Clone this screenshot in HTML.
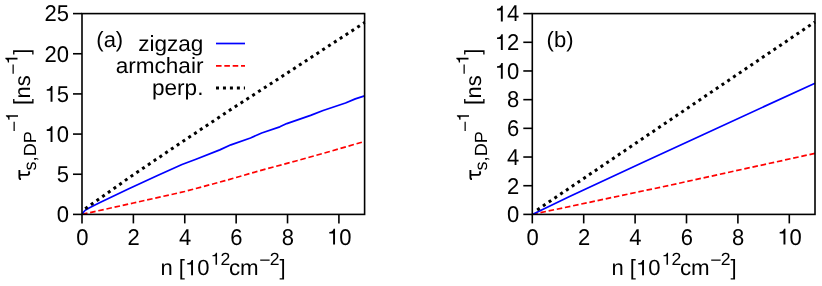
<!DOCTYPE html>
<html><head><meta charset="utf-8"><style>
html,body{margin:0;padding:0;background:#fff;}
svg{display:block;will-change:transform;}
text{font-family:"Liberation Sans",sans-serif;font-size:22px;fill:#000;text-rendering:geometricPrecision;}
</style></head><body>
<svg width="822" height="286" viewBox="0 0 822 286">
<rect width="822" height="286" fill="#fff"/>
<path d="M82.00 214.40 L133.38 202.99 L184.76 191.51 L225.10 180.67 L260.04 170.63 L294.98 161.23 L329.92 151.43 L364.60 141.47" fill="none" stroke="#ff0000" stroke-width="1.7" stroke-dasharray="5.56 2.78"/>
<path d="M82.30 214.00 L83.90 211.60 L85.60 210.00 L89.10 207.90 L93.50 205.70 L100.00 202.50 L128.30 189.06 L157.00 175.79 L182.00 164.55 L196.00 159.22 L219.80 149.88 L230.90 144.83 L250.50 137.96 L261.70 132.97 L279.80 126.85 L286.80 123.59 L310.60 115.39 L323.10 110.50 L345.50 103.02 L355.30 98.90 L364.60 95.90" fill="none" stroke="#0000ff" stroke-width="1.7" stroke-linejoin="round"/>
<path d="M85.20 208.80 L130.00 177.05 L180.00 143.30 L230.00 110.05 L280.00 77.75 L330.00 45.10 L364.60 22.60" fill="none" stroke="#000" stroke-width="3" stroke-dasharray="3 3.96"/>
<rect x="82.00" y="13.60" width="282.60" height="200.80" fill="none" stroke="#000" stroke-width="1.6"/>
<line x1="73.00" y1="214.40" x2="82.00" y2="214.40" stroke="#000" stroke-width="1.6"/>
<g transform="translate(68.90 222.20) scale(1 1.04)"><text style="font-size:22.0px" x="-12.24" y="0">0</text></g>
<line x1="73.00" y1="174.24" x2="82.00" y2="174.24" stroke="#000" stroke-width="1.6"/>
<g transform="translate(68.90 182.04) scale(1 1.04)"><text style="font-size:22.0px" x="-12.24" y="0">5</text></g>
<line x1="73.00" y1="134.08" x2="82.00" y2="134.08" stroke="#000" stroke-width="1.6"/>
<g transform="translate(68.90 141.88) scale(1 1.04)"><text style="font-size:22.0px" x="-12.24" y="0">0</text><path d="M750 0H570V985H215V1125Q420 1135 505 1212Q580 1280 620 1409H750Z" transform="translate(-24.47 0) scale(0.01074 -0.01074)"/></g>
<line x1="73.00" y1="93.92" x2="82.00" y2="93.92" stroke="#000" stroke-width="1.6"/>
<g transform="translate(68.90 101.72) scale(1 1.04)"><text style="font-size:22.0px" x="-12.24" y="0">5</text><path d="M750 0H570V985H215V1125Q420 1135 505 1212Q580 1280 620 1409H750Z" transform="translate(-24.47 0) scale(0.01074 -0.01074)"/></g>
<line x1="73.00" y1="53.76" x2="82.00" y2="53.76" stroke="#000" stroke-width="1.6"/>
<g transform="translate(68.90 61.56) scale(1 1.04)"><text style="font-size:22.0px" x="-24.47 -12.24" y="0">20</text></g>
<line x1="73.00" y1="13.60" x2="82.00" y2="13.60" stroke="#000" stroke-width="1.6"/>
<g transform="translate(68.90 21.40) scale(1 1.04)"><text style="font-size:22.0px" x="-24.47 -12.24" y="0">25</text></g>
<line x1="82.00" y1="214.40" x2="82.00" y2="223.40" stroke="#000" stroke-width="1.6"/>
<g transform="translate(82.30 244.50) scale(1 1.04)"><text style="font-size:22.0px" x="-6.12" y="0">0</text></g>
<line x1="133.38" y1="214.40" x2="133.38" y2="223.40" stroke="#000" stroke-width="1.6"/>
<g transform="translate(133.68 244.50) scale(1 1.04)"><text style="font-size:22.0px" x="-6.12" y="0">2</text></g>
<line x1="184.76" y1="214.40" x2="184.76" y2="223.40" stroke="#000" stroke-width="1.6"/>
<g transform="translate(185.06 244.50) scale(1 1.04)"><text style="font-size:22.0px" x="-6.12" y="0">4</text></g>
<line x1="236.15" y1="214.40" x2="236.15" y2="223.40" stroke="#000" stroke-width="1.6"/>
<g transform="translate(236.45 244.50) scale(1 1.04)"><text style="font-size:22.0px" x="-6.12" y="0">6</text></g>
<line x1="287.53" y1="214.40" x2="287.53" y2="223.40" stroke="#000" stroke-width="1.6"/>
<g transform="translate(287.83 244.50) scale(1 1.04)"><text style="font-size:22.0px" x="-6.12" y="0">8</text></g>
<line x1="338.91" y1="214.40" x2="338.91" y2="223.40" stroke="#000" stroke-width="1.6"/>
<g transform="translate(339.21 244.50) scale(1 1.04)"><text style="font-size:22.0px" x="0.00" y="0">0</text><path d="M750 0H570V985H215V1125Q420 1135 505 1212Q580 1280 620 1409H750Z" transform="translate(-12.24 0) scale(0.01074 -0.01074)"/></g>
<g transform="translate(96.30 47.15) scale(1 1)"><text style="font-size:22.0px" x="0.00 7.33 19.56" y="0">(a)</text></g>
<g transform="translate(160.50 275.20) scale(1 1)"><text style="font-size:22.0px" x="0.00 18.35 36.70" y="0">n[0</text><path d="M750 0H570V985H215V1125Q420 1135 505 1212Q580 1280 620 1409H750Z" transform="translate(24.46 0) scale(0.01074 -0.01074)"/></g>
<g transform="translate(210.60 264.80) scale(1 1)"><text style="font-size:17.6px" x="9.79" y="0">2</text><path d="M750 0H570V985H215V1125Q420 1135 505 1212Q580 1280 620 1409H750Z" transform="translate(0.00 0) scale(0.00859 -0.00859)"/></g>
<g transform="translate(228.90 275.20) scale(1.015 1)"><text style="font-size:22.0px" x="0.00 11.00" y="0">cm</text></g>
<g transform="translate(259.20 266.20) scale(1.1 1)"><text style="font-size:17.6px" x="0.00" y="0">−</text></g>
<g transform="translate(269.70 264.70) scale(1 1)"><text style="font-size:17.6px" x="0.00" y="0">2</text></g>
<g transform="translate(279.60 275.20) scale(1 1)"><text style="font-size:22.0px" x="0.00" y="0">]</text></g>
<g transform="translate(29.90 180.00) rotate(-90) translate(0.00 0.00) scale(1 1)"><path d="M0.9 -8.9Q0.9 -10.5 2.8 -10.5L9.9 -10.5M5.3 -10.5L5.1 -3.4Q5.0 -0.7 7.0 -0.7Q8.0 -0.7 8.6 -1.4" transform="translate(0.00 0) scale(1.0000)" fill="none" stroke="#000" stroke-width="1.9"/></g>
<g transform="translate(29.90 180.00) rotate(-90) translate(9.60 6.00) scale(1.025 1)"><text style="font-size:17.6px" x="0.00 8.80 13.69 26.40" y="0">s,DP</text></g>
<g transform="translate(29.90 180.00) rotate(-90) translate(47.90 -10.40) scale(1.1 1)"><text style="font-size:17.6px" x="0.00" y="0">−</text></g>
<g transform="translate(29.90 180.00) rotate(-90) translate(58.40 -11.90) scale(1 1)"><path d="M750 0H570V985H215V1125Q420 1135 505 1212Q580 1280 620 1409H750Z" transform="translate(0.00 0) scale(0.00859 -0.00859)"/></g>
<g transform="translate(29.90 180.00) rotate(-90) translate(74.90 -0.70) scale(1 1)"><text style="font-size:22.0px" x="0.00" y="0">[</text></g>
<g transform="translate(29.90 180.00) rotate(-90) translate(81.50 0.00) scale(1 1)"><text style="font-size:22.0px" x="0.00 12.24" y="0">ns</text></g>
<g transform="translate(29.90 180.00) rotate(-90) translate(105.20 -10.90) scale(1.1 1)"><text style="font-size:17.6px" x="0.00" y="0">−</text></g>
<g transform="translate(29.90 180.00) rotate(-90) translate(115.70 -12.40) scale(1 1)"><path d="M750 0H570V985H215V1125Q420 1135 505 1212Q580 1280 620 1409H750Z" transform="translate(0.00 0) scale(0.00859 -0.00859)"/></g>
<g transform="translate(29.90 180.00) rotate(-90) translate(125.30 -0.70) scale(1 1)"><text style="font-size:22.0px" x="0.00" y="0">]</text></g>
<path d="M532.30 214.40 L669.02 185.43 L815.00 153.37" fill="none" stroke="#ff0000" stroke-width="1.7" stroke-dasharray="5.56 2.78"/>
<path d="M532.30 214.40 L569.05 196.76 L639.98 163.77 L702.95 134.65 L815.00 83.16" fill="none" stroke="#0000ff" stroke-width="1.7" stroke-linejoin="round"/>
<path d="M537.20 209.90 L815.00 21.90" fill="none" stroke="#000" stroke-width="3" stroke-dasharray="3 3.96"/>
<rect x="532.30" y="13.60" width="282.70" height="200.80" fill="none" stroke="#000" stroke-width="1.6"/>
<line x1="523.30" y1="214.40" x2="532.30" y2="214.40" stroke="#000" stroke-width="1.6"/>
<g transform="translate(519.20 222.20) scale(1 1.04)"><text style="font-size:22.0px" x="-12.24" y="0">0</text></g>
<line x1="523.30" y1="185.71" x2="532.30" y2="185.71" stroke="#000" stroke-width="1.6"/>
<g transform="translate(519.20 193.51) scale(1 1.04)"><text style="font-size:22.0px" x="-12.24" y="0">2</text></g>
<line x1="523.30" y1="157.03" x2="532.30" y2="157.03" stroke="#000" stroke-width="1.6"/>
<g transform="translate(519.20 164.83) scale(1 1.04)"><text style="font-size:22.0px" x="-12.24" y="0">4</text></g>
<line x1="523.30" y1="128.34" x2="532.30" y2="128.34" stroke="#000" stroke-width="1.6"/>
<g transform="translate(519.20 136.14) scale(1 1.04)"><text style="font-size:22.0px" x="-12.24" y="0">6</text></g>
<line x1="523.30" y1="99.66" x2="532.30" y2="99.66" stroke="#000" stroke-width="1.6"/>
<g transform="translate(519.20 107.46) scale(1 1.04)"><text style="font-size:22.0px" x="-12.24" y="0">8</text></g>
<line x1="523.30" y1="70.97" x2="532.30" y2="70.97" stroke="#000" stroke-width="1.6"/>
<g transform="translate(519.20 78.77) scale(1 1.04)"><text style="font-size:22.0px" x="-12.24" y="0">0</text><path d="M750 0H570V985H215V1125Q420 1135 505 1212Q580 1280 620 1409H750Z" transform="translate(-24.47 0) scale(0.01074 -0.01074)"/></g>
<line x1="523.30" y1="42.29" x2="532.30" y2="42.29" stroke="#000" stroke-width="1.6"/>
<g transform="translate(519.20 50.09) scale(1 1.04)"><text style="font-size:22.0px" x="-12.24" y="0">2</text><path d="M750 0H570V985H215V1125Q420 1135 505 1212Q580 1280 620 1409H750Z" transform="translate(-24.47 0) scale(0.01074 -0.01074)"/></g>
<line x1="523.30" y1="13.60" x2="532.30" y2="13.60" stroke="#000" stroke-width="1.6"/>
<g transform="translate(519.20 21.40) scale(1 1.04)"><text style="font-size:22.0px" x="-12.24" y="0">4</text><path d="M750 0H570V985H215V1125Q420 1135 505 1212Q580 1280 620 1409H750Z" transform="translate(-24.47 0) scale(0.01074 -0.01074)"/></g>
<line x1="532.30" y1="214.40" x2="532.30" y2="223.40" stroke="#000" stroke-width="1.6"/>
<g transform="translate(532.60 244.50) scale(1 1.04)"><text style="font-size:22.0px" x="-6.12" y="0">0</text></g>
<line x1="583.70" y1="214.40" x2="583.70" y2="223.40" stroke="#000" stroke-width="1.6"/>
<g transform="translate(584.00 244.50) scale(1 1.04)"><text style="font-size:22.0px" x="-6.12" y="0">2</text></g>
<line x1="635.10" y1="214.40" x2="635.10" y2="223.40" stroke="#000" stroke-width="1.6"/>
<g transform="translate(635.40 244.50) scale(1 1.04)"><text style="font-size:22.0px" x="-6.12" y="0">4</text></g>
<line x1="686.50" y1="214.40" x2="686.50" y2="223.40" stroke="#000" stroke-width="1.6"/>
<g transform="translate(686.80 244.50) scale(1 1.04)"><text style="font-size:22.0px" x="-6.12" y="0">6</text></g>
<line x1="737.90" y1="214.40" x2="737.90" y2="223.40" stroke="#000" stroke-width="1.6"/>
<g transform="translate(738.20 244.50) scale(1 1.04)"><text style="font-size:22.0px" x="-6.12" y="0">8</text></g>
<line x1="789.30" y1="214.40" x2="789.30" y2="223.40" stroke="#000" stroke-width="1.6"/>
<g transform="translate(789.60 244.50) scale(1 1.04)"><text style="font-size:22.0px" x="0.00" y="0">0</text><path d="M750 0H570V985H215V1125Q420 1135 505 1212Q580 1280 620 1409H750Z" transform="translate(-12.24 0) scale(0.01074 -0.01074)"/></g>
<g transform="translate(546.60 47.15) scale(1 1)"><text style="font-size:22.0px" x="0.00 7.33 19.56" y="0">(b)</text></g>
<g transform="translate(611.50 275.20) scale(1 1)"><text style="font-size:22.0px" x="0.00 18.35 36.70" y="0">n[0</text><path d="M750 0H570V985H215V1125Q420 1135 505 1212Q580 1280 620 1409H750Z" transform="translate(24.46 0) scale(0.01074 -0.01074)"/></g>
<g transform="translate(661.60 264.80) scale(1 1)"><text style="font-size:17.6px" x="9.79" y="0">2</text><path d="M750 0H570V985H215V1125Q420 1135 505 1212Q580 1280 620 1409H750Z" transform="translate(0.00 0) scale(0.00859 -0.00859)"/></g>
<g transform="translate(679.90 275.20) scale(1.015 1)"><text style="font-size:22.0px" x="0.00 11.00" y="0">cm</text></g>
<g transform="translate(710.20 266.20) scale(1.1 1)"><text style="font-size:17.6px" x="0.00" y="0">−</text></g>
<g transform="translate(720.70 264.70) scale(1 1)"><text style="font-size:17.6px" x="0.00" y="0">2</text></g>
<g transform="translate(730.60 275.20) scale(1 1)"><text style="font-size:22.0px" x="0.00" y="0">]</text></g>
<g transform="translate(480.90 180.00) rotate(-90) translate(0.00 0.00) scale(1 1)"><path d="M0.9 -8.9Q0.9 -10.5 2.8 -10.5L9.9 -10.5M5.3 -10.5L5.1 -3.4Q5.0 -0.7 7.0 -0.7Q8.0 -0.7 8.6 -1.4" transform="translate(0.00 0) scale(1.0000)" fill="none" stroke="#000" stroke-width="1.9"/></g>
<g transform="translate(480.90 180.00) rotate(-90) translate(9.60 6.00) scale(1.025 1)"><text style="font-size:17.6px" x="0.00 8.80 13.69 26.40" y="0">s,DP</text></g>
<g transform="translate(480.90 180.00) rotate(-90) translate(47.90 -10.40) scale(1.1 1)"><text style="font-size:17.6px" x="0.00" y="0">−</text></g>
<g transform="translate(480.90 180.00) rotate(-90) translate(58.40 -11.90) scale(1 1)"><path d="M750 0H570V985H215V1125Q420 1135 505 1212Q580 1280 620 1409H750Z" transform="translate(0.00 0) scale(0.00859 -0.00859)"/></g>
<g transform="translate(480.90 180.00) rotate(-90) translate(74.90 -0.70) scale(1 1)"><text style="font-size:22.0px" x="0.00" y="0">[</text></g>
<g transform="translate(480.90 180.00) rotate(-90) translate(81.50 0.00) scale(1 1)"><text style="font-size:22.0px" x="0.00 12.24" y="0">ns</text></g>
<g transform="translate(480.90 180.00) rotate(-90) translate(105.20 -10.90) scale(1.1 1)"><text style="font-size:17.6px" x="0.00" y="0">−</text></g>
<g transform="translate(480.90 180.00) rotate(-90) translate(115.70 -12.40) scale(1 1)"><path d="M750 0H570V985H215V1125Q420 1135 505 1212Q580 1280 620 1409H750Z" transform="translate(0.00 0) scale(0.00859 -0.00859)"/></g>
<g transform="translate(480.90 180.00) rotate(-90) translate(125.30 -0.70) scale(1 1)"><text style="font-size:22.0px" x="0.00" y="0">]</text></g>
<g transform="translate(203.40 50.50) scale(1.025 1)"><text style="font-size:22.0px" x="-63.59 -52.59 -47.71 -35.47 -24.47 -12.24" y="0">zigzag</text></g>
<path d="M216 43.50 L245 43.50" fill="none" stroke="#0000ff" stroke-width="1.7" stroke-linejoin="round"/>
<g transform="translate(203.40 72.80) scale(1.025 1)"><text style="font-size:22.0px" x="-85.57 -73.34 -66.01 -47.68 -36.68 -24.45 -12.21 -7.33" y="0">armchair</text></g>
<path d="M216 65.80 L245 65.80" fill="none" stroke="#ff0000" stroke-width="1.7" stroke-dasharray="5.56 2.78"/>
<g transform="translate(203.40 95.10) scale(1.025 1)"><text style="font-size:22.0px" x="-50.14 -37.91 -25.67 -18.35 -6.11" y="0">perp.</text></g>
<path d="M216 88.10 L245 88.10" fill="none" stroke="#000" stroke-width="3" stroke-dasharray="3 3.96"/>
</svg>
</body></html>
